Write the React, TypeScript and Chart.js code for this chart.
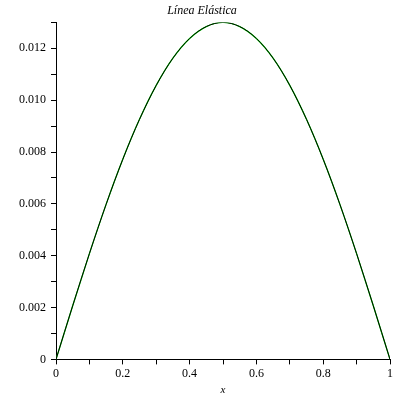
import React, { useEffect, useRef } from "react";
import { Chart, registerables } from "chart.js";

Chart.register(...registerables);

const xValues = [0, 0.05, 0.1, 0.15, 0.2, 0.25, 0.3, 0.35, 0.4, 0.45, 0.5, 0.55, 0.6, 0.65, 0.7, 0.75, 0.8, 0.85, 0.9, 0.95, 1];
const deflection = [0, 0.00207, 0.00408, 0.00598, 0.00772, 0.00926, 0.01057, 0.01162, 0.01238, 0.01284, 0.013, 0.01284, 0.01238, 0.01162, 0.01057, 0.00926, 0.00772, 0.00598, 0.00408, 0.00207, 0];
const xTickLabels = ["0", "0.2", "0.4", "0.6", "0.8", "1"];
const titleText = "Línea Elástica";
const xAxisTitle = "x";

export default function App() {
  const ref = useRef<HTMLCanvasElement | null>(null);
  useEffect(() => {
    if (!ref.current) return;
    const pts = xValues.map((x, i) => ({ x, y: deflection[i] }));
    const font = { family: "'Liberation Serif', 'DejaVu Serif', serif", size: 12, weight: "normal" as const };
    const chart = new Chart(ref.current, {
      type: "line",
      data: {
        datasets: [
          { data: pts, borderColor: "#000000", borderWidth: 1, pointRadius: 0, tension: 0.4, cubicInterpolationMode: "monotone" },
          { data: pts, borderColor: "#00dd00", borderWidth: 1.3, pointRadius: 0, tension: 0.4, cubicInterpolationMode: "monotone" },
        ],
      },
      options: {
        animation: false,
        responsive: false,
        layout: { padding: { left: 14, right: 10, top: 0, bottom: 3 } },
        plugins: {
          legend: { display: false },
          tooltip: { enabled: false },
          title: { display: true, text: titleText, color: "#000", font: { ...font, style: "italic" }, padding: { top: 4, bottom: 4 } },
        },
        scales: {
          x: {
            type: "linear",
            min: 0,
            max: 1,
            border: { display: true, color: "#000", width: 1 },
            grid: { drawOnChartArea: false, drawTicks: true, tickLength: 5, color: "#000" },
            ticks: {
              stepSize: 0.1,
              autoSkip: false,
              maxRotation: 0,
              color: "#000",
              font,
              padding: 2,
              callback: (v: any) => {
                const n = Math.round(Number(v) * 10);
                return n % 2 === 0 ? xTickLabels[n / 2] : "";
              },
            },
            title: { display: true, text: xAxisTitle, color: "#000", font: { ...font, style: "italic", size: 11 }, padding: { top: 1, bottom: 0 } },
          },
          y: {
            type: "linear",
            min: 0,
            max: 0.013,
            border: { display: true, color: "#000", width: 1 },
            grid: { drawOnChartArea: false, drawTicks: true, tickLength: 5, color: "#000" },
            ticks: {
              stepSize: 0.001,
              autoSkip: false,
              color: "#000",
              font,
              padding: 5,
              callback: (v: any) => {
                const n = Math.round(Number(v) * 1000);
                if (n % 2 !== 0) return "";
                return n === 0 ? "0" : (n / 1000).toFixed(3);
              },
            },
          },
        },
      },
    });
    return () => chart.destroy();
  }, []);
  return (
    <div style={{ position: "absolute", left: 0, top: 0, width: 400, height: 400, background: "#fff" }}>
      <canvas ref={ref} width={400} height={400} style={{ width: 400, height: 400 }} />
    </div>
  );
}
